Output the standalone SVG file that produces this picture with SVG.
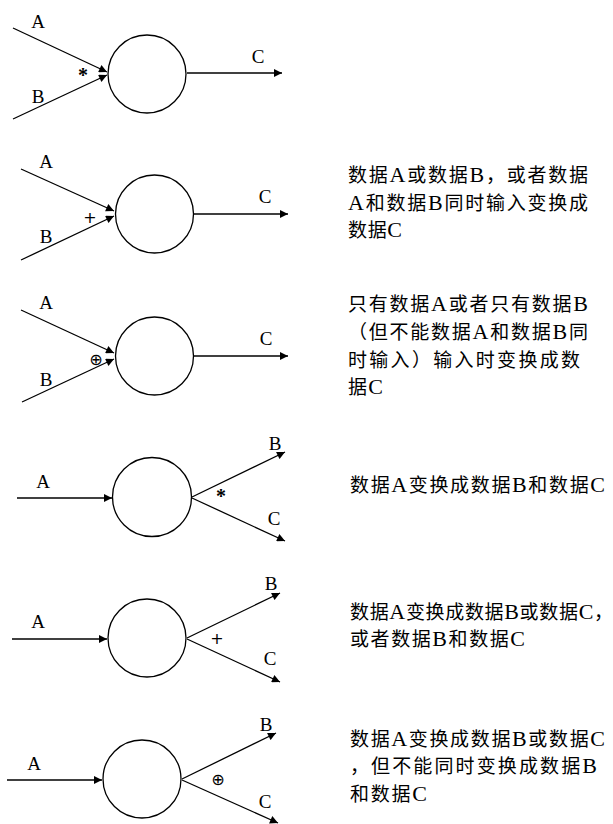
<svg xmlns="http://www.w3.org/2000/svg" width="613" height="824" viewBox="0 0 613 824">
<style>
.ln{stroke:#000;stroke-width:1.3;fill:none}
.ar{marker-end:url(#ah)}
.nd{stroke:#000;stroke-width:1.3;fill:#fff}
.lb{font-family:"Liberation Serif",serif;font-size:19px;fill:#000;text-anchor:middle}
.op{font-family:"DejaVu Sans",serif;font-size:16px;fill:#000;text-anchor:middle}
.ox{font-family:"DejaVu Sans",serif;font-size:16px;fill:#000;text-anchor:middle}
.st{font-family:"Liberation Serif",serif;font-size:20px;font-weight:bold;fill:#000;text-anchor:middle}
.tx{font-family:"Liberation Serif","Noto Sans CJK SC",sans-serif;font-size:19px;fill:#000}
.l{font-size:22px}
</style>
<defs>
<marker id="ah" viewBox="0 0 10 10" refX="10" refY="5" markerUnits="userSpaceOnUse" markerWidth="10" markerHeight="8" orient="auto">
<path d="M0,0 L10,5 L0,10 z" fill="#000"/>
</marker>
</defs>
<g id="connectors">
<line class="ln ar" x1="13" y1="28" x2="107" y2="72"/>
<line class="ln ar" x1="13" y1="119" x2="107" y2="75"/>
<line class="ln ar" x1="187" y1="73" x2="282" y2="73"/>
<line class="ln ar" x1="21" y1="169" x2="114" y2="211"/>
<line class="ln ar" x1="21" y1="260" x2="114" y2="216"/>
<line class="ln ar" x1="194" y1="214" x2="288" y2="214"/>
<line class="ln ar" x1="21" y1="310" x2="114" y2="353"/>
<line class="ln ar" x1="22" y1="402" x2="114" y2="359"/>
<line class="ln ar" x1="194" y1="356" x2="288" y2="356"/>
<line class="ln ar" x1="17" y1="498" x2="112" y2="498"/>
<line class="ln ar" x1="192" y1="497" x2="285" y2="452"/>
<line class="ln ar" x1="192" y1="498" x2="285" y2="541"/>
<line class="ln ar" x1="12" y1="639" x2="107" y2="639"/>
<line class="ln ar" x1="187" y1="638" x2="280" y2="593"/>
<line class="ln ar" x1="187" y1="639" x2="280" y2="682"/>
<line class="ln ar" x1="7" y1="780" x2="102" y2="780"/>
<line class="ln ar" x1="182" y1="779" x2="276" y2="733"/>
<line class="ln ar" x1="182" y1="780" x2="278" y2="823"/>
</g>
<g id="n1">
<circle class="nd" cx="147" cy="74" r="39"/>
<text class="lb" x="38" y="28">A</text>
<text class="lb" x="38" y="103">B</text>
<text class="lb" x="258" y="63">C</text>
<text class="st" x="83" y="82">*</text>
</g>
<g id="n2">
<circle class="nd" cx="154.5" cy="214" r="39"/>
<text class="lb" x="46" y="168">A</text>
<text class="lb" x="46" y="243">B</text>
<text class="lb" x="265" y="203">C</text>
<text class="op" x="90" y="223">+</text>
<text class="tx" x="348" y="182" textLength="240" lengthAdjust="spacing">数据<tspan class="l">A</tspan>或数据<tspan class="l">B</tspan>，或者数据</text>
<text class="tx" x="348" y="210" textLength="240" lengthAdjust="spacing"><tspan class="l">A</tspan>和数据<tspan class="l">B</tspan>同时输入变换成</text>
<text class="tx" x="348" y="237" textLength="54" lengthAdjust="spacing">数据<tspan class="l">C</tspan></text>
</g>
<g id="n3">
<circle class="nd" cx="154.5" cy="356" r="39"/>
<text class="lb" x="46" y="309">A</text>
<text class="lb" x="46" y="386">B</text>
<text class="lb" x="266" y="345">C</text>
<text class="ox" x="96" y="365">⊕</text>
<text class="tx" x="348" y="311" textLength="240" lengthAdjust="spacing">只有数据<tspan class="l">A</tspan>或者只有数据<tspan class="l">B</tspan></text>
<text class="tx" x="348" y="339" textLength="240" lengthAdjust="spacing">（但不能数据<tspan class="l">A</tspan>和数据<tspan class="l">B</tspan>同</text>
<text class="tx" x="348" y="367" textLength="232" lengthAdjust="spacing">时输入）输入时变换成数</text>
<text class="tx" x="348" y="394" textLength="35" lengthAdjust="spacing">据<tspan class="l">C</tspan></text>
</g>
<g id="n4">
<circle class="nd" cx="152" cy="497" r="39.5"/>
<text class="lb" x="43" y="488">A</text>
<text class="lb" x="275" y="450">B</text>
<text class="lb" x="274" y="525">C</text>
<text class="st" x="221" y="503">*</text>
<text class="tx" x="350" y="492" textLength="255" lengthAdjust="spacing">数据<tspan class="l">A</tspan>变换成数据<tspan class="l">B</tspan>和数据<tspan class="l">C</tspan></text>
</g>
<g id="n5">
<circle class="nd" cx="147" cy="638" r="39"/>
<text class="lb" x="38" y="628">A</text>
<text class="lb" x="271" y="590">B</text>
<text class="lb" x="270" y="665">C</text>
<text class="op" x="217" y="644">+</text>
<text class="tx" x="350" y="619" textLength="263" lengthAdjust="spacing">数据<tspan class="l">A</tspan>变换成数据<tspan class="l">B</tspan>或数据<tspan class="l">C</tspan>，</text>
<text class="tx" x="350" y="646" textLength="175" lengthAdjust="spacing">或者数据<tspan class="l">B</tspan>和数据<tspan class="l">C</tspan></text>
</g>
<g id="n6">
<circle class="nd" cx="142" cy="779" r="39"/>
<text class="lb" x="34" y="770">A</text>
<text class="lb" x="266" y="731">B</text>
<text class="lb" x="265" y="808">C</text>
<text class="ox" x="218" y="785">⊕</text>
<text class="tx" x="350" y="746" textLength="255" lengthAdjust="spacing">数据<tspan class="l">A</tspan>变换成数据<tspan class="l">B</tspan>或数据<tspan class="l">C</tspan></text>
<text class="tx" x="350" y="773" textLength="247" lengthAdjust="spacing">，但不能同时变换成数据<tspan class="l">B</tspan></text>
<text class="tx" x="350" y="801" textLength="77" lengthAdjust="spacing">和数据<tspan class="l">C</tspan></text>
</g>
</svg>
